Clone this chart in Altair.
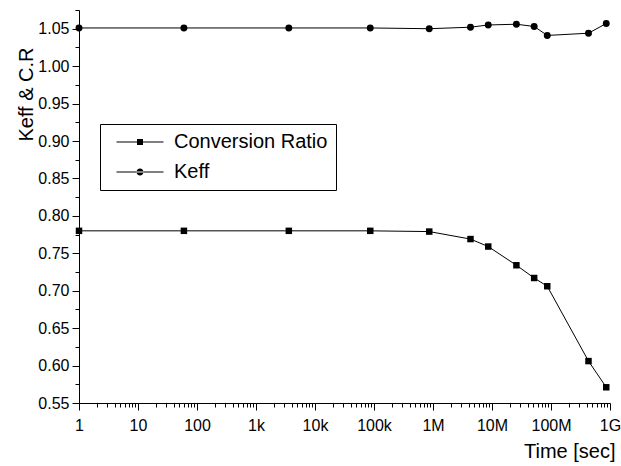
import altair as alt
import pandas as pd

# ---- data ----
time_sec = [1, 60, 3600, 86400, 864000, 4320000, 8640000, 25920000,
            51840000, 86400000, 432000000, 864000000]
keff = [1.051, 1.051, 1.051, 1.051, 1.050, 1.052, 1.055, 1.056,
        1.053, 1.041, 1.044, 1.057]
conversion_ratio = [0.780, 0.780, 0.780, 0.780, 0.779, 0.769, 0.759, 0.734,
                    0.717, 0.706, 0.606, 0.571]
series_names = ["Conversion Ratio", "Keff"]

x_ticks = [m * 10 ** d for d in range(9) for m in range(1, 10)] + [10 ** 9]
y_ticks = [round(0.55 + 0.025 * i, 3) for i in range(22)]

rows = []
for t, v in zip(time_sec, conversion_ratio):
    rows.append({"time": t, "value": v, "series": series_names[0]})
for t, v in zip(time_sec, keff):
    rows.append({"time": t, "value": v, "series": series_names[1]})
df = pd.DataFrame(rows)

FONT = "Liberation Sans"

x_major = "abs(log(datum.value)/LN10 - round(log(datum.value)/LN10)) < 0.001"
y_major = "abs(datum.value*20 - round(datum.value*20)) < 0.001"

x_enc = alt.X(
    "time:Q",
    scale=alt.Scale(type="log", domain=[1, 1e9], nice=False),
    axis=alt.Axis(
        values=x_ticks,
        labelExpr=f"({x_major}) ? format(datum.value, '~s') : ''",
        tickSize={"condition": {"test": x_major, "value": 7}, "value": 4},
        title="Time [sec]",
        titleAnchor="end",
        titleAlign="right",
        titleBaseline="alphabetic",
        titleX=536,
        titleY=54,
        titleFont=FONT,
        titleFontSize=20,
        titleFontWeight="normal",
        labelFont=FONT,
        labelFontSize=16,
        labelPadding=7,
        labelOverlap=False,
        labelFlush=False,
        grid=False,
        domainColor="black",
        tickColor="black",
        labelColor="black",
        titleColor="black",
    ),
)
y_enc = alt.Y(
    "value:Q",
    scale=alt.Scale(domain=[0.55, 1.075], nice=False, zero=False),
    axis=alt.Axis(
        values=y_ticks,
        labelExpr=f"({y_major}) ? format(datum.value, '.2f') : ''",
        tickSize={"condition": {"test": y_major, "value": 7}, "value": 4},
        title="Keff & C.R",
        titleAngle=-90,
        titleAlign="center",
        titleBaseline="alphabetic",
        titleX=-47,
        titleY=84,
        titleFont=FONT,
        titleFontSize=20,
        titleFontWeight="normal",
        labelFont=FONT,
        labelFontSize=16,
        labelPadding=3,
        labelOverlap=False,
        labelFlush=False,
        grid=False,
        domainColor="black",
        tickColor="black",
        labelColor="black",
        titleColor="black",
    ),
)

# legend glyphs: a thin bar (the line) with the marker in its middle, all filled
sq_path = ("M-4.7,-0.1H-0.6V-0.6H0.6V-0.1H4.7V0.1H0.6V0.6H-0.6V0.1H-4.7Z")
ci_path = ("M-4.7,-0.1H4.7V0.1H-4.7Z"
           "M-0.7,0A0.7,0.7 0 1,0 0.7,0A0.7,0.7 0 1,0 -0.7,0Z")

legend = alt.Legend(
    title=None,
    orient="none",
    legendX=21,
    legendY=114,
    strokeColor="black",
    fillColor="white",
    padding=8,
    symbolSize=100,
    symbolStrokeWidth=0,
    symbolFillColor="black",
    symbolOpacity=1,
    symbolOffset=22,
    labelOffset=24,
    labelFont=FONT,
    labelFontSize=20,
    labelColor="black",
    labelLimit=400,
    rowPadding=10,
)

base = alt.Chart(df)
lines = base.mark_line(color="black", strokeWidth=1).encode(
    x=x_enc, y=y_enc, detail="series:N"
)
squares = base.transform_filter(
    alt.datum.series == series_names[0]
).mark_point(filled=True, color="black", size=42, opacity=1, shape="square").encode(
    x=x_enc, y=y_enc
)
circles = base.transform_filter(
    alt.datum.series == series_names[1]
).mark_point(filled=True, color="black", size=48, opacity=1, shape="circle").encode(
    x=x_enc, y=y_enc
)
legend_layer = base.mark_point(filled=True, color="black", opacity=0).encode(
    x=x_enc,
    y=y_enc,
    shape=alt.Shape(
        "series:N",
        scale=alt.Scale(domain=series_names, range=[sq_path, ci_path]),
        legend=legend,
    ),
)

chart = (
    alt.layer(lines, squares, circles, legend_layer)
    .properties(
        width=531,
        height=393,
        padding={"left": 79, "top": 10, "right": 11, "bottom": 63},
        autosize=alt.AutoSizeParams(type="none"),
        background="white",
    )
    .configure_view(stroke=None)
)

chart.save("out.html", embed_options={"renderer": "svg", "actions": False})
